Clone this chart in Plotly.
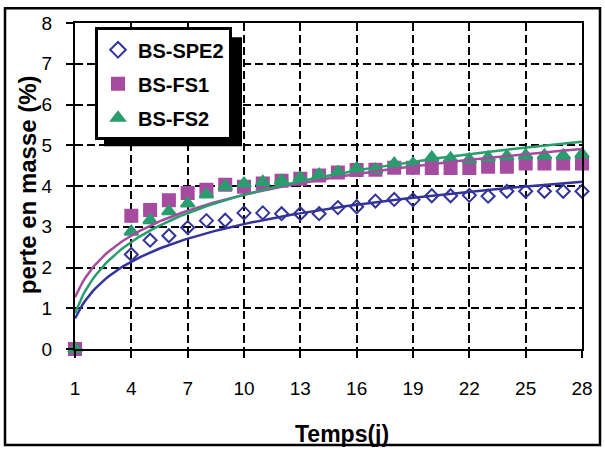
import numpy as np
import plotly.graph_objects as go

days = [1, 4, 5, 6, 7, 8, 9, 10, 11, 12, 13, 14, 15, 16, 17, 18, 19, 20, 21, 22, 23, 24, 25, 26, 27, 28]
bs_spe2 = [0, 2.32, 2.67, 2.78, 2.98, 3.15, 3.16, 3.34, 3.34, 3.32, 3.32, 3.32, 3.47, 3.49,
           3.63, 3.67, 3.66, 3.76, 3.76, 3.77, 3.75, 3.87, 3.87, 3.87, 3.87, 3.87]
bs_fs1 = [0, 3.27, 3.41, 3.65, 3.83, 3.91, 4.03, 3.98, 4.06, 4.13, 4.18, 4.26, 4.33, 4.39,
          4.40, 4.45, 4.45, 4.44, 4.44, 4.44, 4.47, 4.47, 4.55, 4.55, 4.55, 4.55]
bs_fs2 = [0, 2.88, 3.16, 3.38, 3.57, 3.79, 3.99, 4.06, 4.10, 4.13, 4.20, 4.28, 4.34, 4.43,
          4.40, 4.55, 4.55, 4.70, 4.68, 4.65, 4.70, 4.73, 4.75, 4.75, 4.75, 4.78]
x_ticks = [1, 4, 7, 10, 13, 16, 19, 22, 25, 28]
y_ticks = [0, 1, 2, 3, 4, 5, 6, 7, 8]

names = ["BS-SPE2", "BS-FS1", "BS-FS2"]
series = [bs_spe2, bs_fs1, bs_fs2]
colors = ["#333399", "#A64CA0", "#2A9D6E"]
symbols = ["diamond-open", "square", "triangle-up"]
sizes = [10, 12, 12]

FONT = "Liberation Sans, Arial, sans-serif"

fig = go.Figure()
for name, ys, c, s, sz in zip(names, series, colors, symbols, sizes):
    fig.add_trace(go.Scatter(
        x=days, y=ys, mode="markers", name=name, legendgroup=name,
        marker=dict(symbol=s, size=sz, color=c, line=dict(color=c, width=2)),
        cliponaxis=False,
    ))

# logarithmic trendlines fitted to the data (as in the spreadsheet)
xd = np.linspace(1, 28, 200)
for name, ys, c in zip(names, series, colors):
    a, b = np.polyfit(np.log(np.array(days, float)), np.array(ys, float), 1)
    fig.add_trace(go.Scatter(x=xd, y=a * np.log(xd) + b, mode="lines",
                             line=dict(color=c, width=2.5), showlegend=False,
                             hoverinfo="skip"))

L, R, T, B = 75, 582, 22.7, 349
W, H = R - L, B - T


def px_x(p):
    return (p - L) / W


def px_y(p):
    return (B - p) / H


axis_common = dict(
    showline=True, linecolor="black", linewidth=2, mirror=True,
    ticks="outside", ticklen=7, tickwidth=1.5, tickcolor="black",
    showgrid=True, gridcolor="black", gridwidth=2, griddash="8px,4px",
    zeroline=False, tickfont=dict(family=FONT, size=19, color="black"),
)

fig.update_layout(
    width=605, height=451,
    margin=dict(l=L, r=605 - R, t=T, b=451 - B),
    paper_bgcolor="white", plot_bgcolor="white",
    font=dict(family=FONT, color="black"),
    xaxis=dict(range=[1, 28], tickvals=x_ticks, ticklabelstandoff=14, **axis_common),
    yaxis=dict(range=[0, 8], tickvals=y_ticks, ticklabelstandoff=10, **axis_common),
    legend=dict(
        x=px_x(95), y=px_y(27), xanchor="left", yanchor="top",
        bgcolor="white", bordercolor="black", borderwidth=3,
        font=dict(family=FONT, size=20, color="black", weight="bold"),
        tracegroupgap=5, itemsizing="constant", itemwidth=30,
    ),
    showlegend=True,
)

# legend shadow
fig.add_shape(type="rect", xref="paper", yref="paper",
              x0=px_x(104), x1=px_x(242), y0=px_y(146), y1=px_y(37),
              fillcolor="black", line=dict(width=0), layer="above")
# outer chart frame
fig.add_shape(type="rect", xref="paper", yref="paper",
              x0=px_x(5), x1=px_x(600), y0=px_y(445), y1=px_y(8),
              fillcolor="rgba(0,0,0,0)", line=dict(color="black", width=2.5))

fig.add_annotation(text="<b>perte en masse (%)</b>", xref="paper", yref="paper",
                   x=px_x(27), y=px_y(185), textangle=-90, showarrow=False,
                   xanchor="center", yanchor="middle",
                   font=dict(family=FONT, size=24, color="black"))
fig.add_annotation(text="<b>Temps(j)</b>", xref="paper", yref="paper",
                   x=px_x(342), y=px_y(434), showarrow=False,
                   xanchor="center", yanchor="middle",
                   font=dict(family=FONT, size=23, color="black"))

fig.write_html("out.html", config={"displayModeBar": False},
               post_script="document.body.style.margin='0px';document.body.style.overflow='hidden';")
